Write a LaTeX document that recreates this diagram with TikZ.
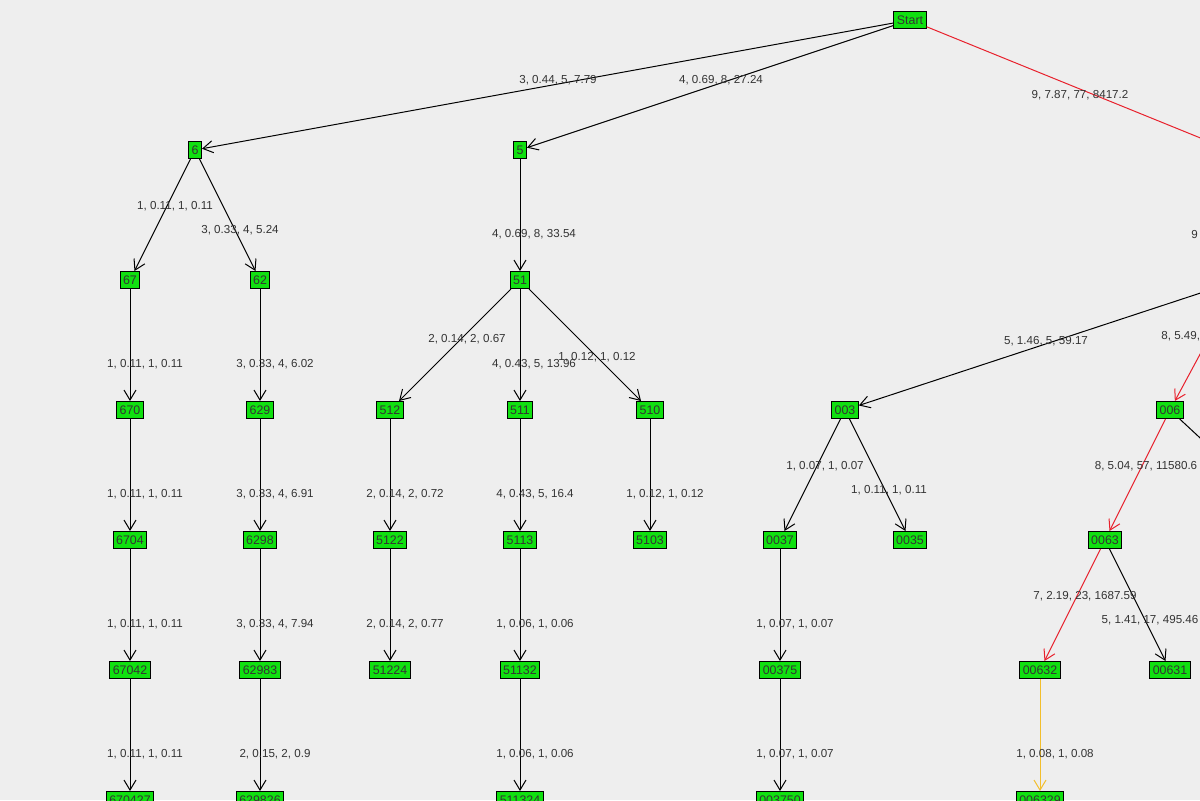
\documentclass[tikz,border=0pt]{standalone}
\usepackage{fontspec}
\setmainfont{Liberation Sans}
\definecolor{bgGray}{HTML}{EEEEEE}
\definecolor{nodeGreen}{HTML}{10E010}
\definecolor{pathRed}{HTML}{E8202C}
\definecolor{pathYellow}{HTML}{F2BE2C}
\definecolor{labelGray}{HTML}{333333}
\usetikzlibrary{positioning, arrows.meta}
\tikzstyle{state}=[draw=black, fill=nodeGreen, line width=0.5pt, inner xsep=1.5pt, inner ysep=0pt, minimum height=8.5pt, font=\fontsize{6.2}{7}\selectfont, text=black!80]
\tikzstyle{edge}=[-{Straight Barb[length=5pt, width=6pt]}, line width=0.5pt]
\tikzstyle{weight}=[font=\fontsize{5.8}{7}\selectfont, text=labelGray, inner sep=0pt]

\begin{document}
\begin{tikzpicture}[x=0.5pt, y=-0.5pt]
  \useasboundingbox (0,0) rectangle (1200,800);
  \fill[bgGray] (0,0) rectangle (1200,800);
  \begin{scope}
    \clip (0,0) rectangle (1200,800);

    % 状態
    \node[state] (start) at (910,20) {Start};
    \node[state] (n6) at (195,150) {6};
    \node[state] (n5) at (520,150) {5};
    \coordinate (n0) at (1230,150);
    \node[state] (n67) at (130,280) {67};
    \node[state] (n62) at (260,280) {62};
    \node[state] (n51) at (520,280) {51};
    \coordinate (n00) at (1240,280);
    \node[state] (n670) at (130,410) {670};
    \node[state] (n629) at (260,410) {629};
    \node[state] (n512) at (390,410) {512};
    \node[state] (n511) at (520,410) {511};
    \node[state] (n510) at (650,410) {510};
    \node[state] (n003) at (845,410) {003};
    \node[state] (n006) at (1170,410) {006};
    \node[state] (n6704) at (130,540) {6704};
    \node[state] (n6298) at (260,540) {6298};
    \node[state] (n5122) at (390,540) {5122};
    \node[state] (n5113) at (520,540) {5113};
    \node[state] (n5103) at (650,540) {5103};
    \node[state] (n0037) at (780,540) {0037};
    \node[state] (n0035) at (910,540) {0035};
    \node[state] (n0063) at (1105,540) {0063};
    \coordinate (n006r) at (1310,540);
    \node[state] (n67042) at (130,670) {67042};
    \node[state] (n62983) at (260,670) {62983};
    \node[state] (n51224) at (390,670) {51224};
    \node[state] (n51132) at (520,670) {51132};
    \node[state] (n00375) at (780,670) {00375};
    \node[state] (n00632) at (1040,670) {00632};
    \node[state] (n00631) at (1170,670) {00631};
    \node[state] (n670427) at (130,800) {670427};
    \node[state] (n629826) at (260,800) {629826};
    \node[state] (n511324) at (520,800) {511324};
    \node[state] (n003750) at (780,800) {003750};
    \node[state] (n006329) at (1040,800) {006329};

    % 遷移
    \draw[edge] (start) -- (n6);
    \draw[edge] (start) -- (n5);
    \draw[edge, pathRed] (start) -- (n0);
    \draw[edge] (n6) -- (n67);
    \draw[edge] (n6) -- (n62);
    \draw[edge] (n5) -- (n51);
    \draw[edge, pathRed] (n0) -- (n00);
    \draw[edge] (n67) -- (n670);
    \draw[edge] (n62) -- (n629);
    \draw[edge] (n51) -- (n512);
    \draw[edge] (n51) -- (n511);
    \draw[edge] (n51) -- (n510);
    \draw[edge] (n00) -- (n003);
    \draw[edge, pathRed] (n00) -- (n006);
    \draw[edge] (n670) -- (n6704);
    \draw[edge] (n629) -- (n6298);
    \draw[edge] (n512) -- (n5122);
    \draw[edge] (n511) -- (n5113);
    \draw[edge] (n510) -- (n5103);
    \draw[edge] (n003) -- (n0037);
    \draw[edge] (n003) -- (n0035);
    \draw[edge, pathRed] (n006) -- (n0063);
    \draw[edge] (n006) -- (n006r);
    \draw[edge] (n6704) -- (n67042);
    \draw[edge] (n6298) -- (n62983);
    \draw[edge] (n5122) -- (n51224);
    \draw[edge] (n5113) -- (n51132);
    \draw[edge] (n0037) -- (n00375);
    \draw[edge, pathRed] (n0063) -- (n00632);
    \draw[edge] (n0063) -- (n00631);
    \draw[edge] (n67042) -- (n670427);
    \draw[edge] (n62983) -- (n629826);
    \draw[edge] (n51132) -- (n511324);
    \draw[edge] (n00375) -- (n003750);
    \draw[edge, pathYellow] (n00632) -- (n006329);

    % 重み
    \node[weight] at (558,80) {3, 0.44, 5, 7.79};
    \node[weight] at (721,80) {4, 0.69, 8, 27.24};
    \node[weight] at (1080,95) {9, 7.87, 77, 8417.2};
    \node[weight] at (175,206) {1, 0.11, 1, 0.11};
    \node[weight] at (240,230) {3, 0.33, 4, 5.24};
    \node[weight] at (534,234) {4, 0.69, 8, 33.54};
    \node[weight, anchor=west] at (1191,234) {9};
    \node[weight] at (145,364) {1, 0.11, 1, 0.11};
    \node[weight] at (275,364) {3, 0.33, 4, 6.02};
    \node[weight] at (467,339) {2, 0.14, 2, 0.67};
    \node[weight] at (534,364) {4, 0.43, 5, 13.96};
    \node[weight] at (597,357) {1, 0.12, 1, 0.12};
    \node[weight] at (1046,341) {5, 1.46, 5, 59.17};
    \node[weight, anchor=west] at (1161,336) {8, 5.49,};
    \node[weight] at (145,494) {1, 0.11, 1, 0.11};
    \node[weight] at (275,494) {3, 0.33, 4, 6.91};
    \node[weight] at (405,494) {2, 0.14, 2, 0.72};
    \node[weight] at (535,494) {4, 0.43, 5, 16.4};
    \node[weight] at (665,494) {1, 0.12, 1, 0.12};
    \node[weight] at (825,466) {1, 0.07, 1, 0.07};
    \node[weight] at (889,490) {1, 0.11, 1, 0.11};
    \node[weight] at (1146,466) {8, 5.04, 57, 11580.6};
    \node[weight] at (145,624) {1, 0.11, 1, 0.11};
    \node[weight] at (275,624) {3, 0.33, 4, 7.94};
    \node[weight] at (405,624) {2, 0.14, 2, 0.77};
    \node[weight] at (535,624) {1, 0.06, 1, 0.06};
    \node[weight] at (795,624) {1, 0.07, 1, 0.07};
    \node[weight] at (1085,596) {7, 2.19, 23, 1687.59};
    \node[weight] at (1150,620) {5, 1.41, 17, 495.46};
    \node[weight] at (145,754) {1, 0.11, 1, 0.11};
    \node[weight] at (275,754) {2, 0.15, 2, 0.9};
    \node[weight] at (535,754) {1, 0.06, 1, 0.06};
    \node[weight] at (795,754) {1, 0.07, 1, 0.07};
    \node[weight] at (1055,754) {1, 0.08, 1, 0.08};
  \end{scope}
\end{tikzpicture}
\end{document}
